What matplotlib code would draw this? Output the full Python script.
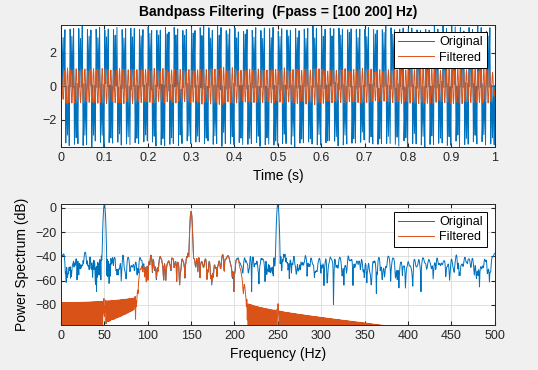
import numpy as np
import matplotlib.pyplot as plt

# signal description (tones at 50/150/250 Hz, noise floor ~ -45 dB)
fs = 1000
tone_freqs = [50, 150, 250]
tone_amps = [2.0, 1.0, 2.0]
noise_std = 0.1
fpass = [100, 200]
steepness = 0.85
stop_atten = 70

blue = "#0072BD"
orange = "#D95319"
axis_color = "#262626"

plt.rcParams["font.family"] = ["Liberation Sans", "DejaVu Sans"]
plt.rcParams["font.size"] = 9

t = np.arange(0, 1 + 1 / fs / 2, 1 / fs)
rng = np.random.default_rng(7)
x = sum(a * np.sin(2 * np.pi * f * t) for f, a in zip(tone_freqs, tone_amps))
x = x + noise_std * rng.standard_normal(t.size)

# kaiser windowed-sinc bandpass, delay compensated
trans = (1 - steepness) * fpass[0]
f1 = fpass[0] - trans / 2
f2 = fpass[1] + trans / 2
beta = 0.1102 * (stop_atten - 8.7)
ntaps = int(np.ceil((stop_atten - 8) / (2.285 * 2 * np.pi * trans / fs))) + 1
ntaps += 1 - ntaps % 2
m = np.arange(ntaps) - (ntaps - 1) / 2
h = 2 * f2 / fs * np.sinc(2 * f2 / fs * m) - 2 * f1 / fs * np.sinc(2 * f1 / fs * m)
h *= np.kaiser(ntaps, beta)
y = np.convolve(x, h, mode="same")


def power_spectrum(sig, pedestal=0.03):
    nfft = 2 * sig.size
    w = (1 - pedestal) * np.kaiser(sig.size, 8) + pedestal
    X = np.fft.rfft(sig * w, nfft)
    p = 2 * np.abs(X) ** 2 / np.sum(w) ** 2
    f = np.fft.rfftfreq(nfft, 1 / fs)
    return f, 10 * np.log10(p + 1e-20)


fx, px = power_spectrum(x)
fy, py = power_spectrum(y)

fig = plt.figure(figsize=(5.38, 3.70), dpi=100, facecolor="#F0F0F0")
ax1 = fig.add_axes([0.1134, 0.6027, 0.806, 0.331])
ax2 = fig.add_axes([0.1134, 0.1216, 0.806, 0.327])

ax1.plot(t, x, color=blue, lw=0.7, label="Original")
ax1.plot(t, y, color=orange, lw=0.7, label="Filtered")
ax1.set_xlim(0, 1)
lo = min(x.min(), y.min())
hi = max(x.max(), y.max())
ax1.set_ylim(lo, hi)
ax1.set_xticks(np.arange(0, 1.01, 0.1))
ax1.set_xticklabels(["0", "0.1", "0.2", "0.3", "0.4", "0.5", "0.6", "0.7", "0.8", "0.9", "1"])
ax1.set_yticks([-2, 0, 2])
ax1.set_xlabel("Time (s)", fontsize=10)
ax1.set_title("Bandpass Filtering  (Fpass = [100 200] Hz)", fontsize=10, fontweight="bold")

ax2.plot(fx, px, color=blue, lw=0.7, label="Original")
ax2.plot(fy, py, color=orange, lw=0.7, label="Filtered")
ax2.set_xlim(0, 500)
ax2.set_ylim(-96.5, max(px.max(), py.max()))
ax2.set_xticks(np.arange(0, 501, 50))
ax2.set_yticks([-80, -60, -40, -20, 0])
ax2.set_xlabel("Frequency (Hz)", fontsize=10)
ax2.set_ylabel("Power Spectrum (dB)", fontsize=10)

for ax in (ax1, ax2):
    ax.set_facecolor("white")
    ax.grid(True, color="#DCDCDC", lw=0.6)
    ax.set_axisbelow(True)
    ax.tick_params(direction="in", top=True, right=True, length=3,
                   colors=axis_color, labelcolor=axis_color, labelsize=9)
    for s in ax.spines.values():
        s.set_color(axis_color)
        s.set_linewidth(0.7)
    leg = ax.legend(loc="upper right", fancybox=False, framealpha=1,
                    edgecolor="black", handlelength=2.9, borderaxespad=0.6,
                    fontsize=9, borderpad=0.35, labelspacing=0.25, handletextpad=0.4)
    leg.get_frame().set_linewidth(0.7)

fig.savefig("out.png", dpi=100, facecolor=fig.get_facecolor())
